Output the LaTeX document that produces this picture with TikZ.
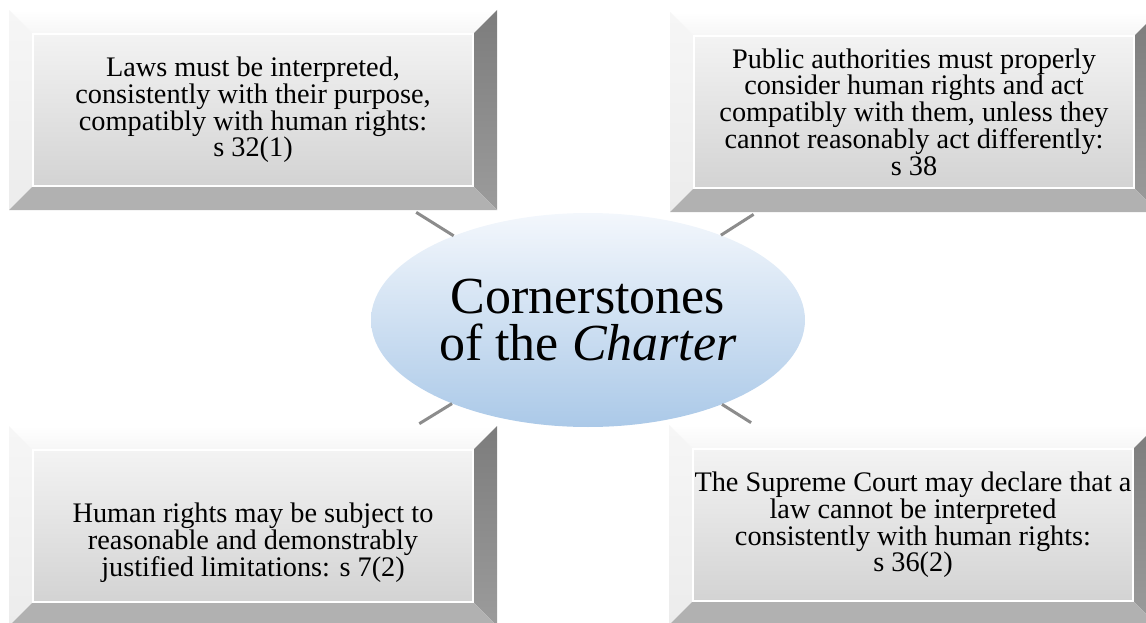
\documentclass[tikz,border=0pt]{standalone}
\usepackage{fontspec}
\setmainfont{Liberation Serif}
\usetikzlibrary{shapes,arrows,positioning,calc}
\definecolor{hubtop}{HTML}{F3F7FC}
\definecolor{hubbot}{HTML}{ABC9E8}
\definecolor{linkgray}{HTML}{8C8C8C}
\definecolor{facetop}{HTML}{F3F3F3}
\definecolor{facebot}{HTML}{D3D3D3}
\definecolor{bevtop}{HTML}{F6F6F6}
\definecolor{bevleft}{HTML}{ECECEC}
\definecolor{bevright}{HTML}{8A8A8A}
\definecolor{bevbot}{HTML}{B1B1B1}

\begin{document}
\begin{tikzpicture}[
    x=1pt, y=-1pt,
    panel/.style={rectangle, minimum width=488pt, minimum height=200pt, inner sep=0pt, align=center, font=\fontsize{28.3}{26.7}\selectfont,
        path picture={
            \coordinate (o1) at (path picture bounding box.north west);
            \coordinate (o2) at (path picture bounding box.north east);
            \coordinate (o3) at (path picture bounding box.south east);
            \coordinate (o4) at (path picture bounding box.south west);
            \coordinate (i1) at ([shift={(24pt,-24pt)}]o1);
            \coordinate (i2) at ([shift={(-24pt,-24pt)}]o2);
            \coordinate (i3) at ([shift={(-24pt,24pt)}]o3);
            \coordinate (i4) at ([shift={(24pt,24pt)}]o4);
            \shade[top color=white, bottom color=bevtop] (o1) -- (o2) -- (i2) -- (i1) -- cycle;
            \shade[top color=bevtop, bottom color=bevleft] (o1) -- (i1) -- (i4) -- (o4) -- cycle;
            \shade[top color=bevright!90!black, bottom color=bevright!85!white] (o2) -- (o3) -- (i3) -- (i2) -- cycle;
            \fill[bevbot] (o4) -- (i4) -- (i3) -- (o3) -- cycle;
            \shade[top color=facetop, bottom color=facebot] (i1) rectangle (i3);
            \draw[white, line width=1.2pt] (i1) rectangle (i3);
        }},
    hub/.style={ellipse, minimum width=434pt, minimum height=214pt, inner sep=0pt, top color=hubtop, bottom color=hubbot, align=center, font=\fontsize{52}{47}\selectfont},
    link/.style={draw=linkgray, line width=3pt, shorten >=4pt}
]
\useasboundingbox (0,0) rectangle (1146,623);
\clip (0,0) rectangle (1146,623);

\node[hub] (charter) at (588,320) {Cornerstones\\of the \textit{Charter}};

\node[panel] (interp) at (253,110) {Laws must be interpreted,\\consistently with their purpose,\\compatibly with human rights:\\s 32(1)};
\node[panel] (public) at (914,112) {Public authorities must properly\\consider human rights and act\\compatibly with them, unless they\\cannot reasonably act differently:\\s 38};
\node[panel] (limits) at (253,526) {\mbox{}\\[26pt]Human rights may be subject to\\reasonable and demonstrably\\justified limitations: s 7(2)};
\node[panel] (declare) at (913,525) {The Supreme Court may declare that a\\law cannot be interpreted\\consistently with human rights:\\s 36(2)};

\draw[link] (charter) -- (interp);
\draw[link] (charter) -- (public);
\draw[link] (charter) -- (limits);
\draw[link] (charter) -- (declare);
\end{tikzpicture}
\end{document}
